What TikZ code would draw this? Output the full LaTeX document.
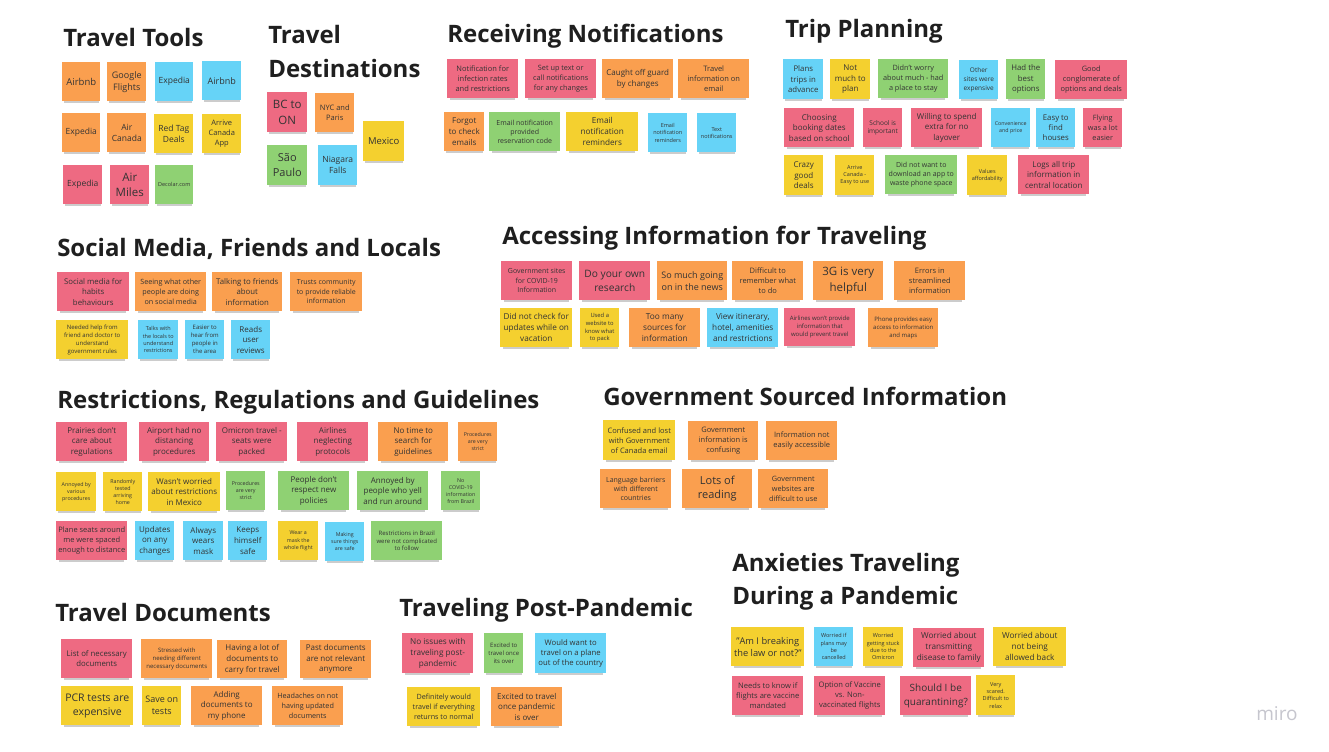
\documentclass[tikz,border=0pt]{standalone}
\usepackage{fontspec}
\setmainfont{Open Sans}
\usetikzlibrary{shadows}

% sticky-note palette
\definecolor{npink}{HTML}{EE6A82}
\definecolor{norange}{HTML}{FA9F4F}
\definecolor{nyellow}{HTML}{F4D02F}
\definecolor{nblue}{HTML}{66D3F7}
\definecolor{ngreen}{HTML}{8FD173}
\definecolor{ink}{HTML}{1F1F1F}
\definecolor{logogray}{HTML}{C6C6CE}

% font size given in pixels (1px = 0.75pt)
\newcommand\fsz[1]{\fontsize{\fpeval{#1*0.75}pt}{\fpeval{#1*0.75*1.33}pt}\selectfont}

\tikzset{
  sticky/.style={anchor=north west, align=center, inner sep=1pt, text=black!80,
    drop shadow={shadow xshift=0pt, shadow yshift=-3pt, shadow scale=0.92, opacity=0.2, fill=black}},
  heading/.style={anchor=base west, inner sep=0pt, text=ink, font=\bfseries\fsz{24}}
}

% \stick{name}{colour}{left}{top}{width}{height}{font px}{text}
\newcommand\stick[8]{\node[sticky, fill=#2, minimum width=#5*0.75pt, minimum height=#6*0.75pt, font=\fsz{#7}] (#1) at (#3,#4) {#8};}

\begin{document}
\begin{tikzpicture}[x=0.75pt, y=-0.75pt]
\fill[white] (0,0) rectangle (1329,752);
\useasboundingbox (0,0) rectangle (1329,752);

% ---------- Travel Tools ----------
\node[heading] (hTools) at (63,47) {Travel Tools};
\stick{t1}{norange}{62}{62}{38}{39}{9.5}{Airbnb}
\stick{t2}{norange}{107}{62}{39}{39}{9}{Google\\Flights}
\stick{t3}{nblue}{155}{62}{38}{39}{8.5}{Expedia}
\stick{t4}{nblue}{202}{61}{39}{39}{9}{Airbnb}
\stick{t5}{norange}{62}{113}{38}{39}{8.5}{Expedia}
\stick{t6}{norange}{107}{113}{39}{39}{8.5}{Air\\Canada}
\stick{t7}{nyellow}{154}{114}{39}{39}{8.5}{Red Tag\\Deals}
\stick{t8}{nyellow}{202}{114}{39}{39}{7.5}{Arrive\\Canada\\App}
\stick{t9}{npink}{63}{165}{39}{39}{8.5}{Expedia}
\stick{t10}{npink}{110}{165}{39}{39}{11.5}{Air\\Miles}
\stick{t11}{ngreen}{155}{165}{38}{39}{5.5}{Decolar.com}

% ---------- Travel Destinations ----------
\node[heading] (hDest1) at (268,44) {Travel};
\node[heading] (hDest2) at (268,78) {Destinations};
\stick{d1}{npink}{267}{92}{40}{40}{11.5}{BC to\\ON}
\stick{d2}{norange}{315}{93}{39}{39}{7.5}{NYC and\\Paris}
\stick{d3}{nyellow}{363}{121}{41}{40}{9.5}{Mexico}
\stick{d4}{ngreen}{267}{145}{40}{40}{11}{São\\Paulo}
\stick{d5}{nblue}{318}{145}{39}{40}{8.5}{Niagara\\Falls}

% ---------- Receiving Notifications ----------
\node[heading] (hNotif) at (447,43) {Receiving Notifications};
\stick{r1}{npink}{447}{59}{71}{39}{7.5}{Notification for\\infection rates\\and restrictions}
\stick{r2}{npink}{525}{59}{71}{39}{7.3}{Set up text or\\call notifications\\for any changes}
\stick{r3}{norange}{602}{59}{71}{39}{8}{Caught off guard\\by changes}
\stick{r4}{norange}{678}{59}{71}{39}{7.5}{Travel\\information on\\email}
\stick{r5}{norange}{444}{112}{40}{39}{8}{Forgot\\to check\\emails}
\stick{r6}{ngreen}{489}{112}{71}{39}{7}{Email notification\\provided\\reservation code}
\stick{r7}{nyellow}{566}{112}{72}{39}{8.2}{Email\\notification\\reminders}
\stick{r8}{nblue}{648}{113}{39}{39}{5.5}{Email\\notification\\reminders}
\stick{r9}{nblue}{697}{113}{39}{39}{5.5}{Text\\notifications}

% ---------- Trip Planning ----------
\node[heading] (hTrip) at (785,37.5) {Trip Planning};
\stick{p1}{nblue}{783}{59}{40}{40}{7.8}{Plans\\trips in\\advance}
\stick{p2}{nyellow}{830}{59}{40}{40}{8}{Not\\much to\\plan}
\stick{p3}{ngreen}{878}{59}{70}{39}{7.3}{Didn't worry\\about much - had\\a place to stay}
\stick{p4}{nblue}{959}{60}{39}{39}{6.5}{Other\\sites were\\expensive}
\stick{p5}{ngreen}{1006}{59}{39}{40}{7.8}{Had the\\best\\options}
\stick{p6}{npink}{1055}{60}{72}{39}{7.4}{Good\\conglomerate of\\options and deals}
\stick{p7}{npink}{784}{108}{70}{39}{8}{Choosing\\booking dates\\based on school}
\stick{p8}{npink}{863}{108}{39}{39}{6.5}{School is\\important}
\stick{p9}{npink}{911}{108}{71}{39}{8}{Willing to spend\\extra for no\\layover}
\stick{p10}{nblue}{991}{108}{39}{39}{5.3}{Convenience\\and price}
\stick{p11}{nblue}{1036}{108}{39}{39}{7.8}{Easy to\\find\\houses}
\stick{p12}{npink}{1083}{108}{39}{39}{7.3}{Flying\\was a lot\\easier}
\stick{p13}{nyellow}{784}{155}{39}{40}{8}{Crazy\\good\\deals}
\stick{p14}{nyellow}{835}{155}{39}{40}{5.5}{Arrive\\Canada -\\Easy to use}
\stick{p15}{ngreen}{885}{155}{72}{39}{7}{Did not want to\\download an app to\\waste phone space}
\stick{p16}{nyellow}{967}{155}{40}{40}{5.5}{Values\\affordability}
\stick{p17}{npink}{1018}{155}{71}{39}{8}{Logs all trip\\information in\\central location}

% ---------- Social Media, Friends and Locals ----------
\node[heading] (hSocial) at (57,256.5) {Social Media, Friends and Locals};
\stick{s1}{npink}{57}{272}{72}{39}{7.8}{Social media for\\habits\\behaviours}
\stick{s2}{norange}{135}{272}{71}{39}{7.2}{Seeing what other\\people are doing\\on social media}
\stick{s3}{norange}{212}{272}{70}{39}{7.8}{Talking to friends\\about\\information}
\stick{s4}{norange}{290}{272}{72}{39}{7}{Trusts community\\to provide reliable\\information}
\stick{s5}{nyellow}{56}{320}{72}{39}{6}{Needed help from\\friend and doctor to\\understand\\government rules}
\stick{s6}{nblue}{138}{320}{40}{39}{5.5}{Talks with\\the locals to\\understand\\restrictions}
\stick{s7}{nblue}{185}{320}{39}{39}{6}{Easier to\\hear from\\people in\\the area}
\stick{s8}{nblue}{231}{320}{39}{39}{8}{Reads\\user\\reviews}

% ---------- Accessing Information for Traveling ----------
\node[heading] (hAccess) at (502,244.5) {Accessing Information for Traveling};
\stick{a1}{npink}{501}{261}{71}{39}{7}{Government sites\\for COVID-19\\Information}
\stick{a2}{npink}{579}{261}{71}{39}{10.2}{Do your own\\research}
\stick{a3}{norange}{657}{261}{70}{39}{9}{So much going\\on in the news}
\stick{a4}{norange}{732}{261}{71}{39}{7.5}{Difficult to\\remember what\\to do}
\stick{a5}{norange}{813}{261}{70}{39}{11.5}{3G is very\\helpful}
\stick{a6}{norange}{894}{261}{71}{39}{7.5}{Errors in\\streamlined\\information}
\stick{a7}{nyellow}{500}{308}{72}{39}{8.2}{Did not check for\\updates while on\\vacation}
\stick{a8}{nyellow}{580}{308}{39}{39}{5.8}{Used a\\website to\\know what\\to pack}
\stick{a9}{norange}{629}{308}{71}{39}{8.3}{Too many\\sources for\\information}
\stick{a10}{nblue}{707}{308}{71}{39}{8.2}{View itinerary,\\hotel, amenities\\and restrictions}
\stick{a11}{npink}{784}{308}{71}{38}{6}{Airlines won't provide\\information that\\would prevent travel}
\stick{a12}{norange}{868}{308}{70}{39}{6}{Phone provides easy\\access to information\\and maps}

% ---------- Restrictions, Regulations and Guidelines ----------
\node[heading] (hRestr) at (57,408) {Restrictions, Regulations and Guidelines};
\stick{g1}{npink}{56}{422}{71}{39}{8}{Prairies don't\\care about\\regulations}
\stick{g2}{npink}{139}{422}{70}{39}{8}{Airport had no\\distancing\\procedures}
\stick{g3}{npink}{216}{422}{71}{39}{8}{Omicron travel -\\seats were\\packed}
\stick{g4}{npink}{297}{422}{71}{39}{8}{Airlines\\neglecting\\protocols}
\stick{g5}{norange}{378}{422}{70}{39}{8}{No time to\\search for\\guidelines}
\stick{g6}{norange}{458}{422}{39}{39}{5.3}{Procedures\\are very\\strict}
\stick{g7}{nyellow}{56}{472}{40}{39}{5.3}{Annoyed by\\various\\procedures}
\stick{g8}{nyellow}{103}{472}{39}{39}{5.3}{Randomly\\tested\\arriving\\home}
\stick{g9}{nyellow}{148}{472}{72}{39}{8}{Wasn't worried\\about restrictions\\in Mexico}
\stick{g10}{ngreen}{226}{471}{39}{39}{5.3}{Procedures\\are very\\strict}
\stick{g11}{ngreen}{278}{471}{71}{39}{8}{People don't\\respect new\\policies}
\stick{g12}{ngreen}{357}{471}{71}{39}{8}{Annoyed by\\people who yell\\and run around}
\stick{g13}{ngreen}{441}{471}{39}{39}{5.3}{No\\COVID-19\\information\\from Brazil}
\stick{g14}{npink}{56}{521}{71}{39}{7.5}{Plane seats around\\me were spaced\\enough to distance}
\stick{g15}{nblue}{135}{521}{39}{39}{8}{Updates\\on any\\changes}
\stick{g16}{nblue}{183}{521}{40}{39}{8}{Always\\wears\\mask}
\stick{g17}{nblue}{228}{521}{39}{39}{8}{Keeps\\himself\\safe}
\stick{g18}{nyellow}{278}{521}{40}{39}{5.3}{Wear a\\mask the\\whole flight}
\stick{g19}{nblue}{325}{522}{39}{39}{5.3}{Making\\sure things\\are safe}
\stick{g20}{ngreen}{371}{521}{71}{39}{6}{Restrictions in Brazil\\were not complicated\\to follow}

% ---------- Government Sourced Information ----------
\node[heading] (hGov) at (603,406) {Government Sourced Information};
\stick{v1}{nyellow}{603}{420}{72}{40}{7.5}{Confused and lost\\with Government\\of Canada email}
\stick{v2}{norange}{688}{421}{70}{39}{7.5}{Government\\information is\\confusing}
\stick{v3}{norange}{766}{421}{71}{39}{7.5}{Information not\\easily accessible}
\stick{v4}{norange}{600}{469}{71}{39}{7}{Language barriers\\with different\\countries}
\stick{v5}{norange}{682}{469}{70}{39}{11}{Lots of\\reading}
\stick{v6}{norange}{758}{469}{70}{39}{7.3}{Government\\websites are\\difficult to use}

% ---------- Travel Documents ----------
\node[heading] (hDocs) at (55,621) {Travel Documents};
\stick{c1}{npink}{61}{639}{71}{39}{7.8}{List of necessary\\documents}
\stick{c2}{norange}{141}{639}{71}{39}{6}{Stressed with\\needing different\\necessary documents}
\stick{c3}{norange}{217}{640}{70}{38}{8}{Having a lot of\\documents to\\carry for travel}
\stick{c4}{norange}{300}{640}{71}{38}{8}{Past documents\\are not relevant\\anymore}
\stick{c5}{nyellow}{61}{686}{72}{39}{10.5}{PCR tests are\\expensive}
\stick{c6}{nyellow}{142}{686}{39}{39}{9}{Save on\\tests}
\stick{c7}{norange}{191}{686}{71}{39}{8}{Adding\\documents to\\my phone}
\stick{c8}{norange}{272}{686}{71}{39}{7.2}{Headaches on not\\having updated\\documents}

% ---------- Traveling Post-Pandemic ----------
\node[heading] (hPost) at (399,616) {Traveling Post-Pandemic};
\stick{q1}{npink}{402}{633}{71}{40}{8.2}{No issues with\\traveling post-\\pandemic}
\stick{q2}{ngreen}{484}{633}{39}{40}{6}{Excited to\\travel once\\its over}
\stick{q3}{nblue}{535}{633}{71}{40}{7.7}{Would want to\\travel on a plane\\out of the country}
\stick{q4}{nyellow}{407}{687}{73}{39}{7.2}{Definitely would\\travel if everything\\returns to normal}
\stick{q5}{norange}{491}{687}{71}{39}{8}{Excited to travel\\once pandemic\\is over}

% ---------- Anxieties Traveling During a Pandemic ----------
\node[heading] (hAnx1) at (732,571) {Anxieties Traveling};
\node[heading] (hAnx2) at (732,604) {During a Pandemic};
\stick{x1}{nyellow}{731}{627}{73}{39}{9.3}{"Am I breaking\\the law or not?"}
\stick{x2}{nblue}{814}{627}{39}{39}{5.5}{Worried if\\plans may\\be\\cancelled}
\stick{x3}{nyellow}{863}{627}{40}{39}{5.5}{Worried\\getting stuck\\due to the\\Omicron}
\stick{x4}{npink}{913}{628}{71}{39}{8.2}{Worried about\\transmitting\\disease to family}
\stick{x5}{nyellow}{993}{627}{73}{39}{8.2}{Worried about\\not being\\allowed back}
\stick{x6}{npink}{732}{676}{71}{39}{7.6}{Needs to know if\\flights are vaccine\\mandated}
\stick{x7}{npink}{814}{676}{71}{39}{7.6}{Option of Vaccine\\vs. Non-\\vaccinated flights}
\stick{x8}{npink}{900}{676}{71}{39}{10}{Should I be\\quarantining?}
\stick{x9}{nyellow}{976}{675}{39}{40}{5.5}{Very\\scared.\\Difficult to\\relax}

% ---------- board watermark ----------
\node[anchor=base west, inner sep=0pt, text=logogray, font=\fsz{19}] (logo) at (1256,720) {miro};
\end{tikzpicture}
\end{document}
